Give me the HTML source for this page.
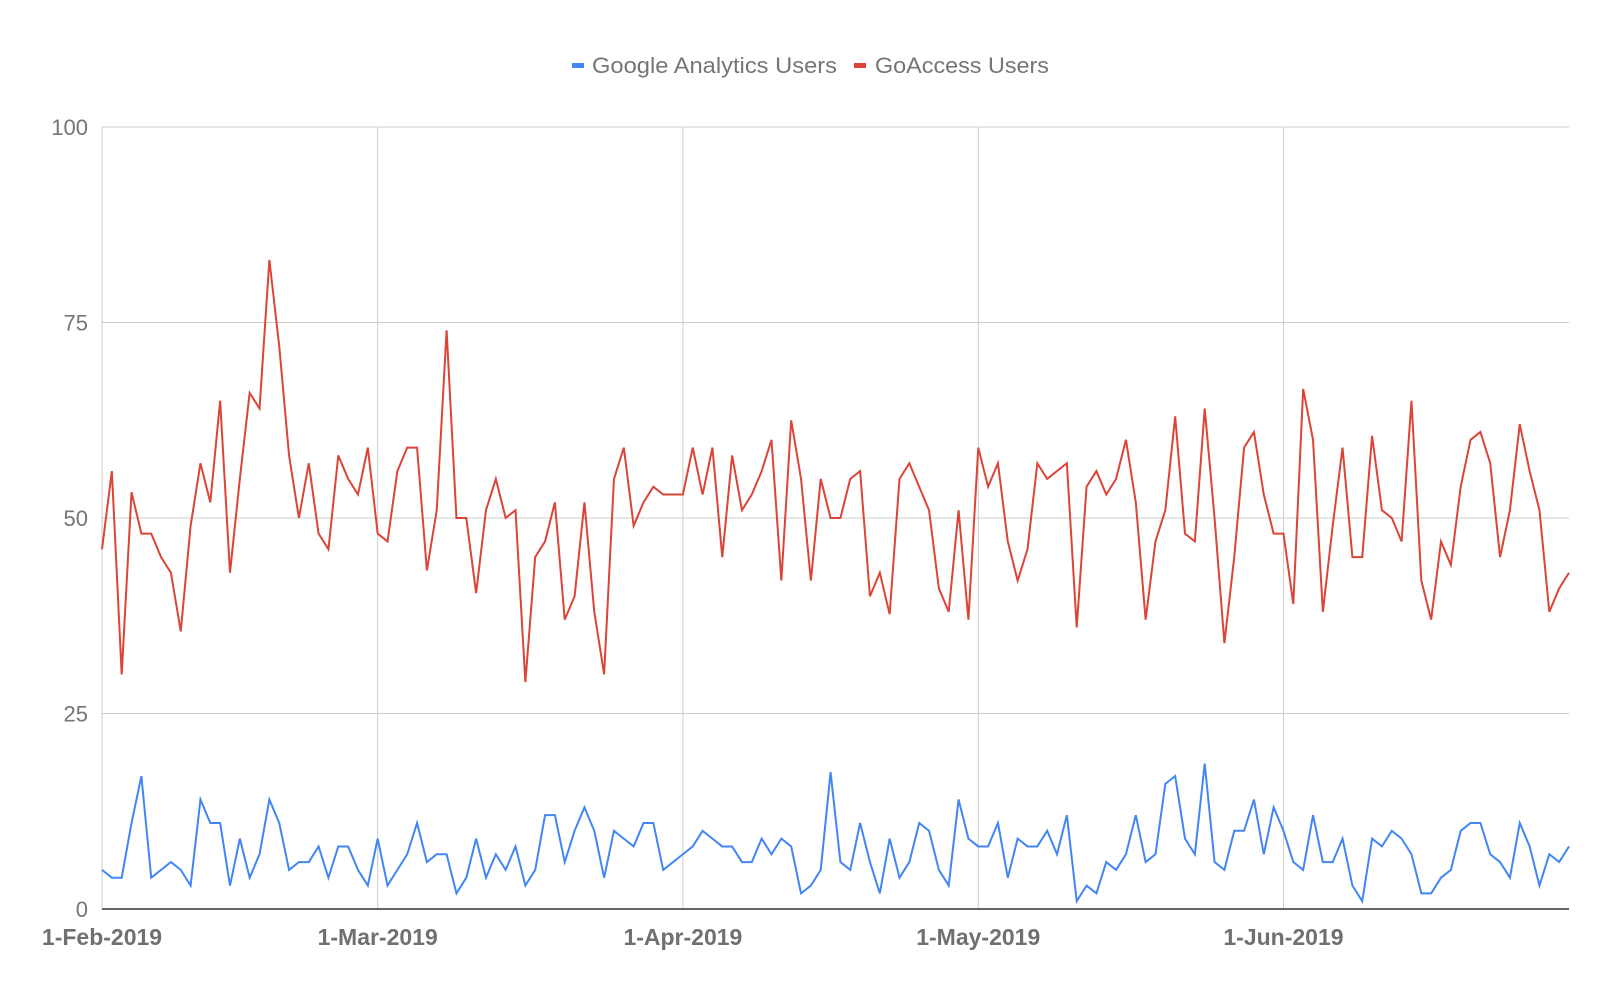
<!DOCTYPE html>
<html>
<head>
<meta charset="utf-8">
<style>
html,body{margin:0;padding:0;background:#fff;}
svg{display:block;font-family:"Liberation Sans",Arial,sans-serif;}
</style>
</head>
<body>
<svg id="chart" width="1620" height="1001" viewBox="0 0 1620 1001" xmlns="http://www.w3.org/2000/svg">
  <rect x="0" y="0" width="1620" height="1001" fill="#ffffff"/>
  <g id="grid"></g>
  <g id="ylabels"></g>
  <g id="xlabels"></g>
  <g id="series"></g>
  <g>
    <g>
      <rect x="572" y="63" width="12" height="5" fill="#4285f4"/>
      <text x="592" y="73" font-size="22" fill="#757575" textLength="245" lengthAdjust="spacingAndGlyphs">Google Analytics Users</text>
    </g>
    <g>
      <rect x="854" y="63" width="12" height="5" fill="#db4437"/>
      <text x="875" y="73" font-size="22" fill="#757575" textLength="174" lengthAdjust="spacingAndGlyphs">GoAccess Users</text>
    </g>
  </g>
</svg>
<script>
const yTicks = [0, 25, 50, 75, 100];
const xTickLabels = ["1-Feb-2019", "1-Mar-2019", "1-Apr-2019", "1-May-2019", "1-Jun-2019"];
const xTickDays = [0, 28, 59, 89, 120];
const gaUsers = [5,4,4,11,17,4,5,6,5,3,14,11,11,3,9,4,7,14,11,5,6,6,8,4,8,8,5,3,9,3,5,7,11,6,7,7,2,4,9,4,7,5,8,3,5,12,12,6,10,13,10,4,10,9,8,11,11,5,6,7,8,10,9,8,8,6,6,9,7,9,8,2,3,5,17.5,6,5,11,6,2,9,4,6,11,10,5,3,14,9,8,8,11,4,9,8,8,10,7,12,1,3,2,6,5,7,12,6,7,16,17,9,7,18.6,6,5,10,10,14,7,13,10,6,5,12,6,6,9,3,1,9,8,10,9,7,2,2,4,5,10,11,11,7,6,4,11,8,3,7,6,8];
const goAccessUsers = [46,56,30,53.3,48,48,45,43,35.5,49,57,52,65,43,55,66,64,83,72,58,50,57,48,46,58,55,53,59,48,47,56,59,59,43.3,51,74,50,50,40.4,51,55,50,51,29,45,47,52,37,40,52,38,30,55,59,49,52,54,53,53,53,59,53,59,45,58,51,53,56,60,42,62.5,55,42,55,50,50,55,56,40,43,37.7,55,57,54,51,41,38,51,37,59,54,57,47,42,46,57,55,56,57,36,54,56,53,55,60,52,37,47,51,63,48,47,64,50,34,45,59,61,53,48,48,39,66.5,60,38,49,59,45,45,60.5,51,50,47,65,42,37,47,44,54,60,61,57,45,51,62,56,51,38,41,43];

const NS = "http://www.w3.org/2000/svg";
const X0 = 102, X1 = 1569, Y0 = 909, Y100 = 127;
const nDays = 150;
function xScale(i){ return X0 + (X1 - X0) * i / (nDays - 1); }
function yScale(v){ return Y0 - (Y0 - Y100) * v / 100; }
function mk(tag, attrs, parent){
  const el = document.createElementNS(NS, tag);
  for (const k in attrs) el.setAttribute(k, attrs[k]);
  parent.appendChild(el);
  return el;
}
const grid = document.getElementById('grid');
const yl = document.getElementById('ylabels');
const xl = document.getElementById('xlabels');
const ser = document.getElementById('series');

yTicks.forEach(t => {
  if (t !== 0) {
    const g = mk('line', {x1: X0, x2: X1, y1: yScale(t), y2: yScale(t), stroke: '#cccccc', 'stroke-width': 1}, grid);
    
    
  }
  const tx = mk('text', {x: 88, y: yScale(t) + 8, 'text-anchor': 'end', 'font-size': 22, fill: '#757575'}, yl);
  tx.textContent = String(t);
  
  
});
xTickDays.forEach((d, k) => {
  const x = xScale(d);
  const g = mk('line', {x1: x, x2: x, y1: Y100, y2: Y0, stroke: '#cccccc', 'stroke-width': 1}, grid);
  
  
  const tx = mk('text', {x: x, y: 945, 'text-anchor': 'middle', 'font-size': 23, 'font-weight': 'bold', fill: '#707070'}, xl);
  tx.textContent = xTickLabels[k];
  
  
});
const axis = mk('line', {x1: X0, x2: X1, y1: Y0, y2: Y0, stroke: '#333333', 'stroke-width': 1.5}, grid);



function drawLine(arr, color, name){
  const pts = arr.map((v, i) => xScale(i).toFixed(2) + ',' + yScale(v).toFixed(2)).join(' ');
  const p = mk('polyline', {points: pts, fill: 'none', stroke: color, 'stroke-width': 2, 'stroke-linejoin': 'miter'}, ser);
  
  
}
drawLine(gaUsers, '#4285f4', 'line-google-analytics-users');
drawLine(goAccessUsers, '#db4437', 'line-goaccess-users');
</script>
</body>
</html>
